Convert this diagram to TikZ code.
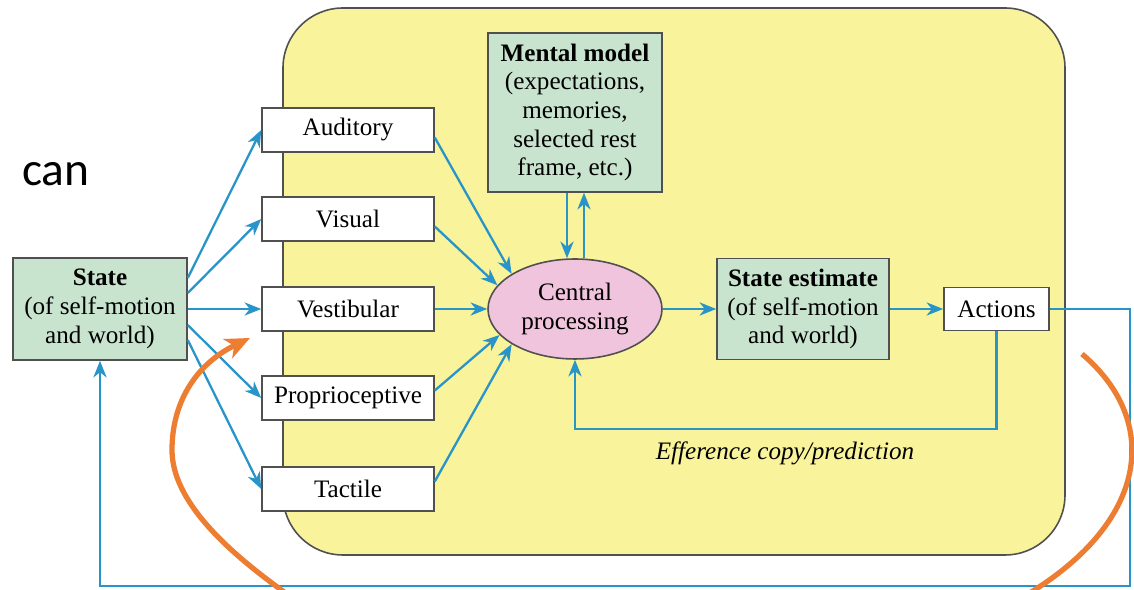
\documentclass[tikz,border=0pt]{standalone}
\usepackage{fontspec}
\setmainfont{Liberation Serif}
\newfontfamily\canfont{Carlito}
\usetikzlibrary{arrows.meta,shapes.geometric}
\definecolor{ybg}{RGB}{249,243,155}
\definecolor{gfill}{RGB}{200,228,206}
\definecolor{pfill}{RGB}{241,196,222}
\definecolor{lblue}{RGB}{40,148,200}
\definecolor{orng}{RGB}{237,125,49}
\definecolor{bord}{RGB}{80,80,80}
\begin{document}
\begin{tikzpicture}[x=0.02cm,y=-0.02cm,
  txt/.style={font=\fontsize{14.3}{16.3}\selectfont},
  box/.style={txt, draw=bord, line width=0.9pt, fill=white, minimum width=3.44cm, minimum height=0.88cm, inner sep=0pt, align=center},
  gbox/.style={box, fill=gfill},
  con/.style={draw=lblue, line width=1.3pt, -{Stealth[length=9.5pt,width=7.5pt,inset=3pt]}},
  orarrow/.style={draw=orng, line width=3pt},
]
\useasboundingbox (0,0) rectangle (1134,590);
% yellow region
\draw[fill=ybg, draw=bord, line width=0.9pt, rounded corners=1.2cm] (283,8) rectangle (1065,555);

\node[anchor=base west, font=\canfont\fontsize{27}{30}\selectfont] (can) at (16,186) {can};

% nodes
\node[gbox, minimum width=3.48cm, minimum height=2.04cm] (state) at (100,309) {\textbf{State}\\(of self-motion\\and world)};
\node[box] (aud) at (348,130) {Auditory};
\node[box] (vis) at (348,219) {Visual};
\node[box] (vest) at (348,309) {Vestibular};
\node[box] (prop) at (348,398) {Proprioceptive};
\node[box] (tact) at (348,489) {Tactile};
\node[gbox, minimum width=3.48cm, minimum height=3.18cm] (mm) at (575,112.5) {\textbf{Mental model}\\(expectations,\\memories,\\selected rest\\frame, etc.)};
\node[ellipse, draw=bord, line width=0.9pt, fill=pfill, minimum width=3.48cm, minimum height=2.0cm, inner sep=0pt, txt, align=center] (cp) at (575,309) {Central\\processing};
\node[gbox, minimum width=3.44cm, minimum height=2.02cm] (se) at (803,309) {\textbf{State estimate}\\(of self-motion\\and world)};
\node[box, minimum width=2.1cm, minimum height=0.86cm] (act) at (996.5,309) {Actions};

% state -> senses
\draw[con] ([yshift=0.62cm]state.east) -- (aud.west);
\draw[con] ([yshift=0.32cm]state.east) -- (vis.west);
\draw[con] (state.east) -- (vest.west);
\draw[con] ([yshift=-0.32cm]state.east) -- (prop.west);
\draw[con] ([yshift=-0.62cm]state.east) -- (tact.west);

% senses -> central
\draw[con] ([yshift=-0.15cm]aud.east) -- (cp.151);
\draw[con] ([yshift=-0.15cm]vis.east) -- (cp.163);
\draw[con] (vest.east) -- (cp.west);
\draw[con] ([yshift=0.15cm]prop.east) -- (cp.199);
\draw[con] ([yshift=0.15cm]tact.east) -- (cp.209);

% mental model <-> central
\draw[con] ([xshift=-0.16cm]mm.south) -- ([xshift=-0.16cm]cp.north);
\draw[con] ([xshift=0.18cm]cp.north) -- ([xshift=0.18cm]mm.south);

% main chain
\draw[con] (cp.east) -- (se.west);
\draw[con] (se.east) -- (act.west);

% efference copy loop
\coordinate (eff) at (996.5,429);
\draw[con] (act.south) -- (eff) -| (cp.south);
\node[txt, font=\itshape\fontsize{14.3}{16.3}\selectfont] (efflbl) at (785,453) {Efference copy/prediction};

% outer loop
\coordinate (br) at (1130,586);
\draw[con] (act.east) -| (br) -| (state.south);

% orange curves
\begin{scope}
\clip (0,0) rectangle (1134,590);
\coordinate (otip) at (250,338);
\draw[orarrow, -{Stealth[length=14pt,width=12pt,inset=4pt]}] (287,594) .. controls (225,550) and (172,500) .. (172,450) .. controls (172,398) and (200,362) .. (otip);
\coordinate (ostart) at (1082,354);
\draw[orarrow] (ostart) .. controls (1160,420) and (1150,520) .. (1028,594);
\end{scope}
\end{tikzpicture}
\end{document}
